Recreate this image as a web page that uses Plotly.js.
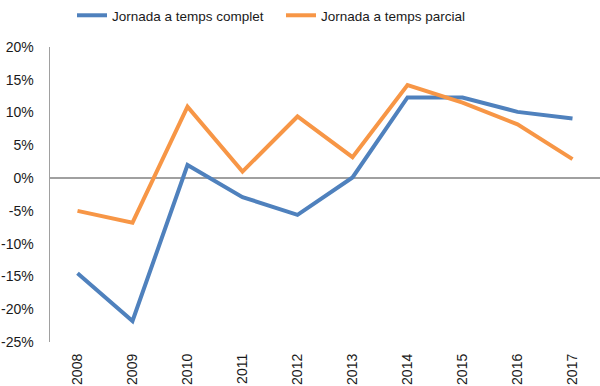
<!DOCTYPE html>
<html><head><meta charset="utf-8">
<script src="https://cdn.plot.ly/plotly-3.0.1.min.js"></script>
<style>body{margin:0;padding:0;background:#fff}#c{width:600px;height:386px}</style>
</head><body><div id="c"></div>
<script>
const years = ['2008','2009','2010','2011','2012','2013','2014','2015','2016','2017'];
const completName = 'Jornada a temps complet';
const parcialName = 'Jornada a temps parcial';
const complet = [-14.5, -21.8, 2.0, -2.9, -5.6, 0.1, 12.3, 12.3, 10.1, 9.1];
const parcial = [-5.0, -6.8, 10.9, 1.0, 9.4, 3.2, 14.2, 11.5, 8.2, 2.9];
const yTicks = [20, 15, 10, 5, 0, -5, -10, -15, -20, -25];

const traces = [
  {x: years, y: complet.map(v => v/100), name: completName, type: 'scatter', mode: 'lines',
   line: {color: '#4F81BD', width: 4}},
  {x: years, y: parcial.map(v => v/100), name: parcialName, type: 'scatter', mode: 'lines',
   line: {color: '#F79646', width: 4}}
];
const layout = {
  width: 600, height: 386,
  margin: {l: 50, r: 0, t: 43, b: 44},
  paper_bgcolor: '#fff', plot_bgcolor: '#fff',
  font: {family: 'Liberation Sans, Arial, sans-serif', size: 14, color: '#1a1a1a'},
  showlegend: true,
  legend: {orientation: 'h', x: 0.04, y: 1.16, xanchor: 'left', yanchor: 'top',
           entrywidth: 164, entrywidthmode: 'pixels', font: {size: 13.5},
           bgcolor: 'rgba(0,0,0,0)'},
  xaxis: {type: 'category', range: [-0.5, 9.5], tickangle: -90, showgrid: false, zeroline: false,
          showline: false, ticks: '', ticklabelstandoff: 8, tickfont: {size: 14}, automargin: false},
  yaxis: {range: [-0.25, 0.2], tickvals: yTicks.map(v => v/100),
          ticktext: yTicks.map(v => v + '%'), showgrid: false,
          zeroline: true, zerolinecolor: '#a0a0a0', zerolinewidth: 1.5,
          showline: true, linecolor: '#a0a0a0', linewidth: 1.5, ticks: '',
          ticklabelstandoff: 12, tickfont: {size: 14}, automargin: false}
};
Plotly.newPlot('c', traces, layout, {displayModeBar: false, staticPlot: true});
</script></body></html>
